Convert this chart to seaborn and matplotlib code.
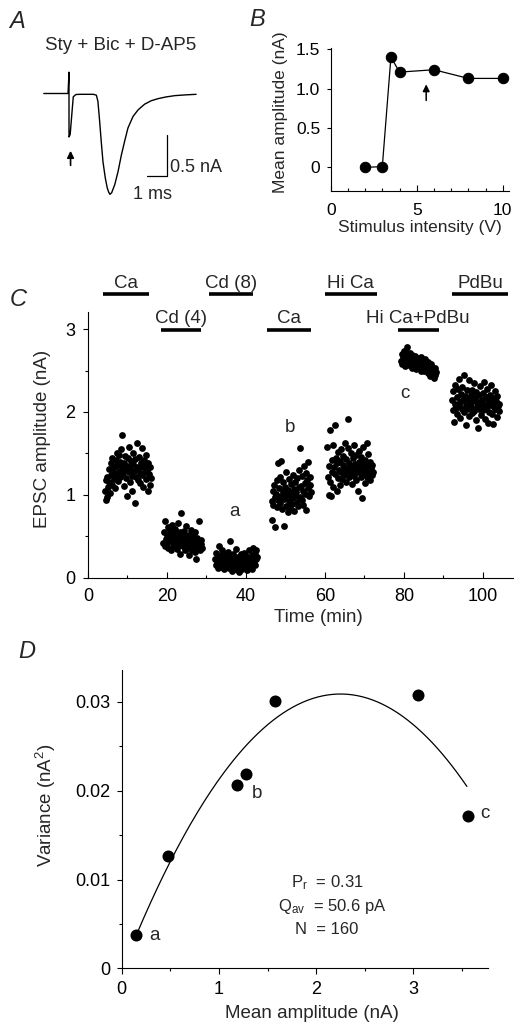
import numpy as np
import pandas as pd
import matplotlib
matplotlib.use("Agg")
import matplotlib.pyplot as plt
from matplotlib.ticker import MultipleLocator
import seaborn as sns

# ---------------- data ----------------
# Panel A: EPSC trace (ms, nA)
trace_t = [-1.3, -0.05, 0.0, 0.0, 0.06, 0.22, 0.36, 0.6, 1.25, 1.41, 1.49, 1.58, 1.66,
           1.75, 1.87, 1.97, 2.04, 2.11, 2.2, 2.36, 2.53, 2.70, 2.87, 3.04, 3.30,
           3.56, 3.90, 4.24, 4.59, 5.0, 5.46, 6.0, 6.55]
trace_i = [0.0, 0.0, 0.26, -0.53, -0.50, -0.04, -0.012, -0.01, -0.01, -0.02, -0.095,
           -0.34, -0.58, -0.83, -1.03, -1.15, -1.20, -1.23, -1.21, -1.11, -0.95, -0.75,
           -0.58, -0.42, -0.28, -0.20, -0.13, -0.088, -0.063, -0.042, -0.026, -0.017, -0.01]

# Panel B
stim_v = [2, 3, 3.5, 4, 6, 8, 10]
mean_amp_b = [0.0, 0.01, 1.40, 1.21, 1.24, 1.13, 1.13]

# Panel C: clusters (condition, start min, end min, amplitudes nA)
cluster_names = ["Ca", "Cd (4)", "Cd (8)", "Ca 2", "Hi Ca", "Hi Ca+PdBu", "PdBu"]
cluster_start = [4.3, 19.1, 32.2, 46.5, 60.6, 79.3, 92.2]
cluster_end = [15.9, 28.8, 42.8, 56.4, 72.1, 88.1, 104.1]
amp_ca1 = [1.05, 0.94, 1.18, 1.22, 0.97, 1.10, 1.31, 1.15, 1.02, 1.24,
           1.38, 1.12, 1.45, 1.28, 1.19, 1.33, 1.08, 1.42, 1.25, 1.51,
           1.36, 1.17, 1.29, 1.48, 1.40, 1.22, 1.55, 1.34, 1.72, 1.26,
           1.11, 1.39, 1.30, 1.47, 1.20, 0.99, 1.35, 1.44, 1.27, 1.58,
           1.16, 1.32, 1.41, 1.23, 1.05, 1.37, 1.50, 1.29, 0.90, 1.43,
           1.21, 1.34, 1.62, 1.18, 1.31, 1.46, 1.26, 1.14, 1.39, 1.57,
           1.24, 1.33, 1.09, 1.42, 1.28, 1.36, 1.48, 1.19, 1.30, 1.05,
           1.38, 1.25, 1.12, 1.33, 1.20]
amp_cd4 = [0.42, 0.55, 0.38, 0.68, 0.47, 0.40, 0.52, 0.61, 0.36, 0.49,
           0.44, 0.57, 0.33, 0.50, 0.46, 0.64, 0.41, 0.53, 0.37, 0.48,
           0.59, 0.43, 0.35, 0.51, 0.46, 0.66, 0.40, 0.55, 0.29, 0.47,
           0.78, 0.42, 0.50, 0.38, 0.56, 0.44, 0.33, 0.49, 0.62, 0.41,
           0.45, 0.36, 0.52, 0.27, 0.47, 0.40, 0.58, 0.34, 0.43, 0.50,
           0.38, 0.46, 0.31, 0.55, 0.42, 0.22, 0.48, 0.37, 0.44, 0.68,
           0.39, 0.33, 0.45, 0.41, 0.36]
amp_cd8 = [0.22, 0.15, 0.30, 0.18, 0.25, 0.12, 0.38, 0.20, 0.16, 0.27,
           0.13, 0.21, 0.33, 0.17, 0.24, 0.10, 0.19, 0.28, 0.14, 0.23,
           0.18, 0.31, 0.12, 0.26, 0.20, 0.44, 0.15, 0.22, 0.08, 0.19,
           0.29, 0.16, 0.24, 0.11, 0.21, 0.35, 0.17, 0.13, 0.25, 0.19,
           0.07, 0.23, 0.14, 0.28, 0.18, 0.10, 0.22, 0.16, 0.30, 0.12,
           0.20, 0.26, 0.15, 0.09, 0.24, 0.18, 0.33, 0.13, 0.21, 0.17,
           0.27, 0.11, 0.23, 0.36, 0.19, 0.15, 0.29, 0.22, 0.34, 0.25]
amp_ca2 = [0.92, 0.70, 1.05, 0.88, 1.12, 0.97, 0.61, 1.01, 0.85, 1.18,
           0.94, 1.38, 1.08, 0.90, 1.22, 0.99, 1.41, 0.83, 1.03, 1.15,
           0.62, 0.95, 1.10, 0.87, 1.27, 1.00, 0.79, 1.06, 0.93, 1.19,
           0.84, 1.02, 1.13, 0.96, 0.89, 1.24, 1.07, 0.81, 0.98, 1.16,
           1.04, 0.91, 1.20, 0.86, 1.09, 1.30, 0.97, 1.57, 1.11, 0.94,
           1.23, 1.05, 0.88, 1.35, 1.14, 1.01, 1.26, 0.82, 1.18, 1.08,
           1.40, 0.99, 1.21, 1.12, 1.03]
amp_hica = [1.58, 1.22, 1.00, 1.35, 1.78, 1.15, 0.98, 1.42, 1.27, 1.60,
            1.10, 1.33, 1.84, 1.25, 1.45, 1.05, 1.38, 1.20, 1.52, 1.30,
            1.12, 1.41, 1.28, 1.55, 1.19, 1.36, 1.47, 1.24, 1.62, 1.32,
            1.16, 1.43, 1.29, 1.57, 1.92, 1.21, 1.39, 1.34, 1.50, 1.26,
            1.13, 1.44, 1.31, 1.60, 1.23, 1.37, 1.48, 1.18, 1.35, 1.27,
            1.05, 1.40, 1.53, 1.29, 1.22, 1.46, 0.96, 1.33, 1.58, 1.25,
            1.38, 1.14, 1.42, 1.30, 1.63, 1.21, 1.35, 1.49, 1.27, 1.18,
            1.40, 1.32, 1.24, 1.36, 1.28]
amp_hicapdbu = [2.62, 2.70, 2.58, 2.66, 2.74, 2.60, 2.68, 2.55, 2.72, 2.63,
                2.78, 2.59, 2.67, 2.64, 2.57, 2.71, 2.61, 2.66, 2.53, 2.69,
                2.60, 2.64, 2.56, 2.62, 2.68, 2.52, 2.59, 2.65, 2.57, 2.61,
                2.54, 2.63, 2.58, 2.50, 2.66, 2.56, 2.60, 2.53, 2.62, 2.49,
                2.57, 2.64, 2.51, 2.59, 2.55, 2.47, 2.60, 2.52, 2.56, 2.44,
                2.58, 2.50, 2.54, 2.46, 2.52, 2.41, 2.49, 2.53, 2.45, 2.48]
amp_pdbu = [2.15, 2.02, 2.25, 1.88, 2.10, 2.33, 2.05, 2.18, 1.97, 2.28,
            2.08, 2.40, 2.12, 1.93, 2.22, 2.04, 2.30, 2.14, 2.45, 2.00,
            2.19, 1.84, 2.09, 2.26, 2.03, 2.16, 2.38, 1.95, 2.11, 2.21,
            2.06, 2.27, 1.99, 2.13, 2.35, 2.01, 2.17, 1.90, 2.24, 2.07,
            2.12, 1.81, 2.20, 2.04, 2.31, 2.10, 1.96, 2.15, 2.23, 2.02,
            2.36, 2.08, 1.92, 2.18, 2.05, 2.28, 1.87, 2.14, 2.00, 2.21,
            2.09, 2.32, 1.98, 2.11, 2.17, 1.85, 2.06, 2.25, 2.03, 2.13,
            1.94, 2.19, 2.07, 2.10, 2.01]
cluster_amps = [amp_ca1, amp_cd4, amp_cd8, amp_ca2, amp_hica, amp_hicapdbu, amp_pdbu]

# Panel C: drug application bars (label, start, end, row)
bar_labels = ["Ca", "Cd (8)", "Hi Ca", "PdBu", "Cd (4)", "Ca", "Hi Ca+PdBu"]
bar_start = [3.7, 30.7, 60.0, 92.1, 18.5, 45.4, 78.4]
bar_end = [15.4, 41.7, 73.1, 106.4, 28.6, 56.4, 88.8]
bar_row = [0, 0, 0, 0, 1, 1, 1]

# Panel D: variance vs mean
mean_d = [0.15, 0.48, 1.19, 1.28, 1.58, 3.05, 3.56]
var_d = [0.0038, 0.0126, 0.0207, 0.0219, 0.0301, 0.0308, 0.0172]
fit_coef = [-0.00616, 0.02772, -0.00029]   # parabolic fit
fit_range = [0.16, 3.55]

# ---------------- style ----------------
sns.set_theme(style="ticks")
plt.rcParams['font.family'] = ['Liberation Sans', 'DejaVu Sans']
plt.rcParams['mathtext.fontset'] = 'custom'
plt.rcParams['mathtext.rm'] = 'Liberation Sans'
plt.rcParams['mathtext.it'] = 'Liberation Sans:italic'
plt.rcParams['axes.linewidth'] = 0.8
plt.rcParams['axes.edgecolor'] = 'black'
plt.rcParams['xtick.color'] = 'black'
plt.rcParams['ytick.color'] = 'black'

W, H = 522, 1033
fig = plt.figure(figsize=(W / 100, H / 100), dpi=100)
fig.patch.set_facecolor('white')


def ax_px(l, t, r, b):
    return fig.add_axes([l / W, 1 - b / H, (r - l) / W, (b - t) / H])


def style_axes(ax, fs):
    sns.despine(ax=ax)
    ax.tick_params(axis='both', which='both', width=0.8, labelsize=fs, colors='black')


# ---------------- Panel A ----------------
axA = ax_px(40, 60, 210, 200)
dfa = pd.DataFrame({"t": trace_t, "i": trace_i})
sns.lineplot(data=dfa, x="t", y="i", sort=False, estimator=None, color='black', lw=1.0, ax=axA)
axA.set_xlim(-1.495, 7.268)
axA.set_ylim(-1.299, 0.4085)
axA.axis('off')
axA.plot([4.04, 5.04, 5.04], [-1.006, -1.006, -0.506], color='black', lw=0.9, clip_on=False)
axA.text(5.22, -0.90, "0.5 nA", fontsize=13, ha='left', va='center')
axA.text(4.28, -1.238, "1 ms", fontsize=13, ha='center', va='center', clip_on=False)
axA.annotate('', xy=(0.08, -0.665), xytext=(0.08, -0.91),
             arrowprops=dict(arrowstyle='-|>', color='black', lw=1.2, mutation_scale=10))
fig.text(121 / W, 1 - 45 / H, "Sty + Bic + D-AP5", fontsize=13.5, ha='center', va='center')

# ---------------- Panel B ----------------
axB = ax_px(330.7, 47.7, 509.3, 191)
dfb = pd.DataFrame({"v": stim_v, "a": mean_amp_b})
sns.lineplot(data=dfb, x="v", y="a", marker='o', markersize=7.5, color='black', lw=0.9,
             markeredgecolor='black', ax=axB)
axB.set_xlim(0, 10.38)
axB.set_ylim(-0.3, 1.52)
style_axes(axB, 12.5)
axB.set_xticks([0, 5, 10])
axB.xaxis.set_minor_locator(MultipleLocator(1))
axB.set_yticks([0, 0.5, 1.0, 1.5])
axB.set_yticklabels(['0', '0.5', '1.0', '1.5'])
axB.tick_params(axis='x', which='major', direction='in', length=4.5, pad=8.5)
axB.tick_params(axis='x', which='minor', direction='in', length=2.5)
axB.tick_params(axis='y', which='major', direction='out', length=3, pad=4.5)
axB.set_xlabel("Stimulus intensity (V)", fontsize=12.5, va='center')
axB.set_ylabel("Mean amplitude (nA)", fontsize=12.5, va='center')
axB.xaxis.set_label_coords(0.5, -0.258)
axB.yaxis.set_label_coords(-0.28, 0.548)
axB.annotate('', xy=(5.55, 1.09), xytext=(5.55, 0.815),
             arrowprops=dict(arrowstyle='-|>', color='black', lw=1.1, mutation_scale=10))

# ---------------- Panel C ----------------
axC = ax_px(88, 311.7, 513, 577.7)
rows = []
for name, t0, t1, amps in zip(cluster_names, cluster_start, cluster_end, cluster_amps):
    n = len(amps)
    dt = (t1 - t0) / (n - 1)
    for k, a in enumerate(amps):
        rows.append((name, t0 + k * dt, a))
dfc = pd.DataFrame(rows, columns=["cond", "time", "amp"])
sns.scatterplot(data=dfc, x="time", y="amp", color='black', s=24, linewidth=0, ax=axC)
axC.set_xlim(0, 107.6)
axC.set_ylim(0, 3.21)
style_axes(axC, 13)
axC.set_xticks([0, 20, 40, 60, 80, 100])
axC.xaxis.set_minor_locator(MultipleLocator(10))
axC.set_yticks([0, 1, 2, 3])
axC.yaxis.set_minor_locator(MultipleLocator(0.5))
axC.tick_params(axis='x', which='major', direction='in', length=4, pad=7.5)
axC.tick_params(axis='x', which='minor', direction='in', length=2.5)
axC.tick_params(axis='y', which='major', direction='out', length=3.5, pad=5.5)
axC.tick_params(axis='y', which='minor', direction='out', length=2)
axC.set_xlabel("Time (min)", fontsize=13.5, va='center')
axC.set_ylabel("EPSC amplitude (nA)", fontsize=13.5, va='center')
axC.xaxis.set_label_coords(0.541, -0.1515)
axC.yaxis.set_label_coords(-0.108, 0.521)
row_bar_y = [3.426, 2.99]
row_txt_y = [3.495, 3.075]
for lab, s0, s1, r in zip(bar_labels, bar_start, bar_end, bar_row):
    axC.plot([s0, s1], [row_bar_y[r], row_bar_y[r]], color='black', lw=2.6,
             solid_capstyle='butt', clip_on=False)
    axC.text((s0 + s1) / 2, row_txt_y[r], lab, fontsize=13.5, ha='center',
             va='baseline', clip_on=False)
axC.text(37.2, 0.80, "a", fontsize=13.5, ha='center', va='center')
axC.text(51.1, 1.81, "b", fontsize=13.5, ha='center', va='center')
axC.text(80.3, 2.22, "c", fontsize=13.5, ha='center', va='center')

# ---------------- Panel D ----------------
axD = ax_px(121.7, 670, 488.3, 968.3)
dfd = pd.DataFrame({"m": mean_d, "v": var_d})
sns.scatterplot(data=dfd, x="m", y="v", color='black', s=75, linewidth=0, ax=axD)
xf = np.linspace(fit_range[0], fit_range[1], 200)
dff = pd.DataFrame({"m": xf, "v": np.polyval(fit_coef, xf)})
sns.lineplot(data=dff, x="m", y="v", color='black', lw=0.9, ax=axD)
axD.set_xlim(0, 3.77)
axD.set_ylim(0, 0.0336)
style_axes(axD, 13)
axD.set_xticks([0, 1, 2, 3])
axD.xaxis.set_minor_locator(MultipleLocator(0.5))
axD.set_yticks([0, 0.01, 0.02, 0.03])
axD.set_yticklabels(['0', '0.01', '0.02', '0.03'])
axD.yaxis.set_minor_locator(MultipleLocator(0.005))
axD.tick_params(axis='x', which='major', direction='out', length=4, pad=5)
axD.tick_params(axis='x', which='minor', direction='out', length=2.5)
axD.tick_params(axis='y', which='major', direction='out', length=3.5, pad=5)
axD.tick_params(axis='y', which='minor', direction='out', length=2)
axD.set_xlabel("Mean amplitude (nA)", fontsize=13.5, va='center')
axD.set_ylabel(r"Variance (nA$^\mathrm{2}$)", fontsize=13.5, va='center')
axD.xaxis.set_label_coords(0.52, -0.15)
axD.yaxis.set_label_coords(-0.2065, 0.547)
fig.text(327 / W, 1 - 882.5 / H, r"P$_\mathrm{r}$  = 0.31", fontsize=12, ha='center', va='center')
fig.text(332 / W, 1 - 906 / H, r"Q$_\mathrm{av}$  = 50.6 pA", fontsize=12, ha='center', va='center')
fig.text(327 / W, 1 - 929 / H, "N  = 160", fontsize=12, ha='center', va='center')
fig.text(155 / W, 1 - 935 / H, "a", fontsize=13.5, ha='center', va='center')
fig.text(257 / W, 1 - 793 / H, "b", fontsize=13.5, ha='center', va='center')
fig.text(485 / W, 1 - 813 / H, "c", fontsize=13.5, ha='center', va='center')

# ---------------- panel letters ----------------
for lab, x, y in [("A", 17, 22), ("B", 257, 20), ("C", 18, 300), ("D", 27, 652)]:
    fig.text(x / W, 1 - y / H, lab, fontsize=17, style='italic', ha='center', va='center')

fig.savefig("out.png", dpi=100, facecolor='white')
